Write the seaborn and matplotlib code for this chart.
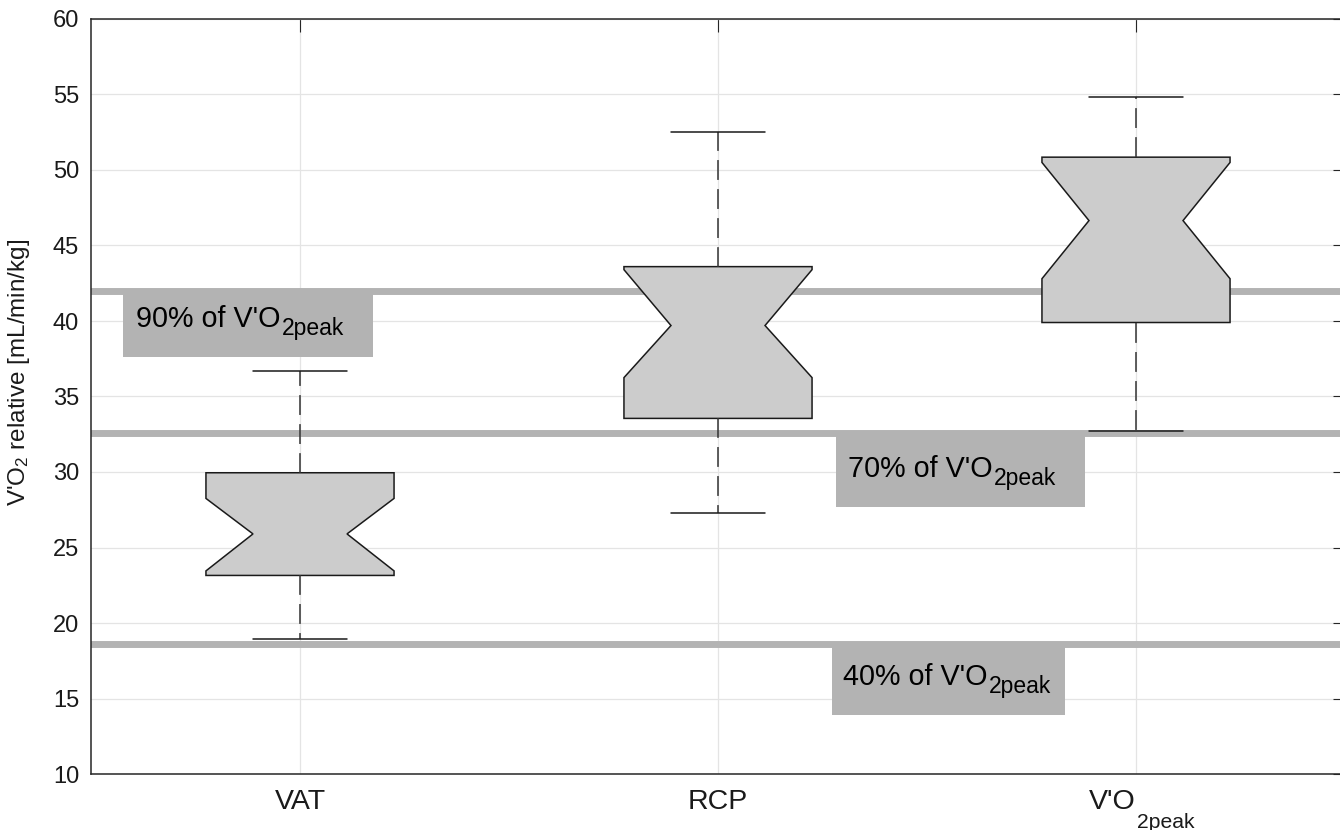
import matplotlib
matplotlib.use("Agg")
import matplotlib.pyplot as plt
from matplotlib.patches import Rectangle
import seaborn as sns

# box summary values (mL/min/kg)
categories = ["VAT", "RCP", "V'O"]
category_sub = ["", "", "2peak"]
whisker_low = [18.95, 27.3, 32.7]
q1 = [23.15, 33.55, 39.9]
median = [25.9, 39.7, 46.65]
q3 = [29.95, 43.6, 50.85]
whisker_high = [36.7, 52.5, 54.85]
notch_low = [23.45, 36.25, 42.8]
notch_high = [28.25, 43.4, 50.5]

# reference levels (fractions of peak V'O2)
ref_levels = [42.0, 32.6, 18.6]
ref_labels = ["90% of V'O", "70% of V'O", "40% of V'O"]
ref_sub = "2peak"

sns.set_theme(style="whitegrid")
plt.rcParams["font.family"] = ["Liberation Sans", "DejaVu Sans"]
plt.rcParams["mathtext.default"] = "regular"

fig = plt.figure(figsize=(13.4, 8.3), dpi=100)
ax = fig.add_axes([91 / 1340, 56 / 830, 1254 / 1340, 755 / 830])

stats = []
for c, wl, a, m, b, wh, cl, ch in zip(categories, whisker_low, q1, median, q3,
                                      whisker_high, notch_low, notch_high):
    stats.append(dict(label=c, whislo=wl, q1=a, med=m, q3=b, whishi=wh,
                      cilo=cl, cihi=ch, fliers=[]))

ax.bxp(stats, positions=range(len(categories)), widths=0.45, patch_artist=True,
       shownotches=True, showfliers=False,
       boxprops=dict(facecolor="#cccccc", edgecolor="#1a1a1a", linewidth=1.1),
       whiskerprops=dict(color="#333333", linewidth=1.1, linestyle=(0, (13, 6))),
       capprops=dict(color="#1a1a1a", linewidth=1.1),
       medianprops=dict(visible=False), zorder=3)

# gray reference lines with their labels
label_box = [(-0.423, 0.598, 4.4, -0.392, 2.37),
             (1.282, 0.596, 4.9, 1.311, 2.91),
             (1.272, 0.558, 4.7, 1.300, 2.71)]
for lvl, txt, (bx, bw, bh, tx, toff) in zip(ref_levels, ref_labels, label_box):
    ax.axhline(lvl, color="#b3b3b3", lw=5, zorder=2)
    ax.add_patch(Rectangle((bx, lvl - bh), bw, bh, facecolor="#b3b3b3",
                           edgecolor="none", zorder=2))
    t = ax.text(tx, lvl - toff, txt, fontsize=20.7, color="black", va="baseline",
                ha="left", zorder=4)
    ax.annotate(ref_sub, xy=(1, 0), xycoords=t, xytext=(1, -1.6),
                textcoords="offset points", fontsize=16.5, va="baseline",
                ha="left", color="black", zorder=4)

ax.set_xlim(-0.5, 2.5)
ax.set_ylim(10, 60)
ax.set_yticks(range(10, 61, 5))
ax.set_xticks(range(len(categories)))
ax.set_xticklabels(categories)

ax.set_axisbelow(True)
ax.grid(True, color="#e4e4e4", lw=0.9)
for s in ax.spines.values():
    s.set_visible(True)
    s.set_color("#262626")
    s.set_linewidth(1.1)

ax.tick_params(axis="both", direction="in", length=9, width=0.8, color="#262626",
               top=True, right=True, labelcolor="#1a1a1a")
ax.tick_params(axis="y", labelsize=17, pad=8.5)
ax.tick_params(axis="x", labelsize=20.5, pad=11)

# subscripts of tick labels, dropped low as in the original
for lab, sub in zip(ax.get_xticklabels(), category_sub):
    if sub:
        lab.set_horizontalalignment("right")
        ax.annotate(sub, xy=(1, 0), xycoords=lab, xytext=(0.5, -9.5),
                    textcoords="offset points", fontsize=15.2, va="baseline",
                    ha="left", color="#1a1a1a", annotation_clip=False)

ax.set_ylabel("V'O$_2$ relative [mL/min/kg]", fontsize=17.5, color="#1a1a1a")
ax.yaxis.set_label_coords(-0.047, 0.532)

fig.savefig("out.png", dpi=100, facecolor="white")
